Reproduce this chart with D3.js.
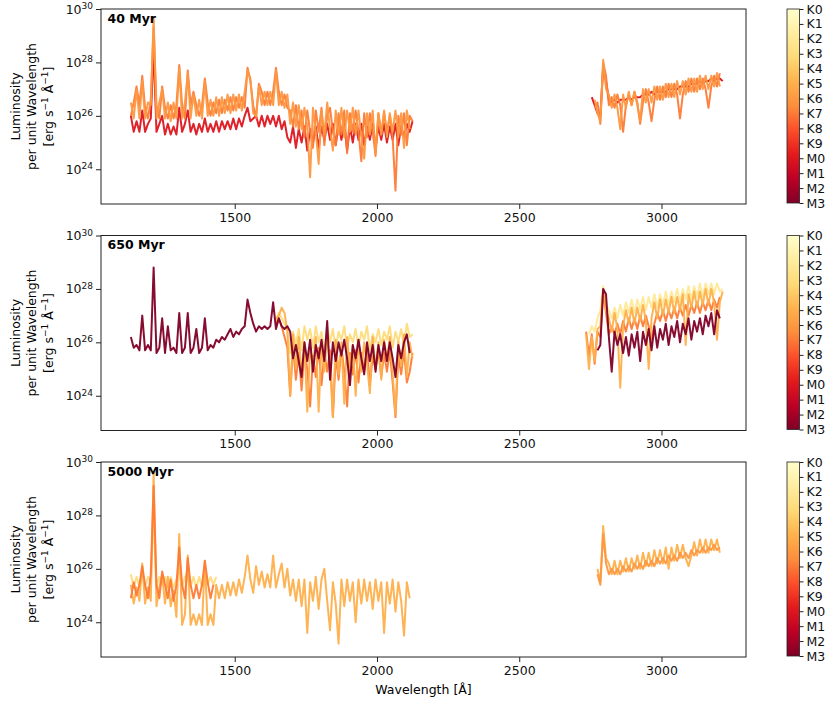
<!DOCTYPE html>
<html>
<head>
<meta charset="utf-8">
<script src="https://cdn.jsdelivr.net/npm/d3@7"></script>
<style>
  body { margin: 0; background: #fff; }
  text { font-family: "DejaVu Sans", sans-serif; }
</style>
</head>
<body>
<div id="chart"></div>
<script>
// spectral types shown on the colour bars (K0 light ... M3 dark)
var SPEC_TYPES = ["K0", "K1", "K2", "K3", "K4", "K5", "K6", "K7", "K8", "K9", "M0", "M1", "M2", "M3"];
var AGES = ["40 Myr", "650 Myr", "5000 Myr"];
var X_TICKS = [1500, 2000, 2500, 3000];
var Y_TICKS = [1e24, 1e26, 1e28, 1e30];

var _ = null; // no data at that wavelength

// wavelength grids [Å]
var FUV_WAVE = [1135, 1145, 1155, 1165, 1175, 1185, 1195, 1205, 1215, 1225,
    1235, 1245, 1255, 1265, 1275, 1285, 1295, 1305, 1315, 1325,
    1335, 1345, 1355, 1365, 1375, 1385, 1395, 1405, 1415, 1425,
    1435, 1445, 1455, 1465, 1475, 1485, 1495, 1505, 1515, 1525,
    1535, 1545, 1555, 1565, 1575, 1585, 1595, 1605, 1615, 1625,
    1635, 1645, 1655, 1665, 1675, 1685, 1695, 1705, 1715, 1725,
    1735, 1745, 1755, 1765, 1775, 1785, 1795, 1805, 1815, 1825,
    1835, 1845, 1855, 1865, 1875, 1885, 1895, 1905, 1915, 1925,
    1935, 1945, 1955, 1965, 1975, 1985, 1995, 2005, 2015, 2025,
    2035, 2045, 2055, 2065, 2075, 2085, 2095, 2105, 2115, 2125];
var NUV_WAVE = [2735, 2745, 2755, 2765, 2775, 2785, 2795, 2805, 2815, 2825,
    2835, 2845, 2855, 2865, 2875, 2885, 2895, 2905, 2915, 2925,
    2935, 2945, 2955, 2965, 2975, 2985, 2995, 3005, 3015, 3025,
    3035, 3045, 3055, 3065, 3075, 3085, 3095, 3105, 3115, 3125,
    3135, 3145, 3155, 3165, 3175, 3185, 3195, 3205, 3215];

// log10 luminosity per unit wavelength
// ---- 40 Myr
var p1M0Fuv = [26.0, 25.4, 25.8, 25.4, 26.2, 25.4, 25.7, 25.9, 28.5, 25.4,
    25.7, 26.0, 25.3, 25.7, 25.3, 25.6, 25.3, 26.3, 25.4, 25.7,
    26.2, 25.4, 25.7, 25.3, 25.7, 25.4, 25.9, 25.4, 25.7, 25.4,
    25.8, 25.4, 25.8, 25.5, 25.8, 25.5, 25.9, 25.5, 25.9, 25.6,
    26.0, 26.3, 25.8, 25.9, 26.0, 25.6, 26.0, 25.6, 26.0, 25.7,
    26.0, 25.6, 26.0, 25.5, 25.8, 25.2, 25.0, 25.6, 24.8, 25.5,
    25.0, 25.6, 24.7, 25.5, 25.0, 25.6, 24.8, 25.6, 25.1, 25.7,
    25.1, 25.7, 24.9, 25.7, 25.1, 25.7, 24.7, 25.6, 25.0, 25.7,
    25.1, 25.7, 24.9, 25.6, 25.1, 25.7, 24.8, 25.6, 25.1, 25.7,
    25.0, 25.6, 25.1, 25.7, 24.9, 25.6, 25.2, 25.7, 25.4, 25.8];
var p1M0Nuv = [_, _, 26.7, 26.4, 26.1, 26.0, 27.8, 27.3, 26.6, 26.5,
    26.6, 26.5, 26.6, 26.6, 26.6, 26.7, 26.6, 26.7, 26.7, 26.7,
    26.8, 26.8, 26.8, 26.9, 26.8, 26.9, 26.9, 26.9, 26.9, 27.0,
    27.0, 27.0, 27.0, 27.1, 27.1, 27.1, 27.1, 27.2, 27.2, 27.2,
    27.3, 27.2, 27.3, 27.3, 27.4, 27.3, 27.4, 27.4, 27.3];
var p1K7Fuv = [26.0, 26.5, 27.1, 26.4, 27.5, 26.3, 25.9, 26.6, 29.3, 26.4,
    25.9, 27.1, 26.3, 25.9, 26.4, 25.9, 26.4, 27.9, 26.4, 25.9,
    27.7, 26.4, 26.9, 26.4, 26.0, 26.4, 27.4, 26.5, 26.0, 26.5,
    26.1, 26.6, 26.1, 26.6, 26.2, 26.7, 26.2, 26.7, 26.3, 26.7,
    26.3, 27.8, 27.3, 26.4, 25.9, 27.2, 26.9, 26.4, 26.9, 26.4,
    26.9, 27.8, 26.9, 26.4, 26.8, 26.3, 26.2, 25.6, 26.4, 25.5,
    26.2, 25.2, 26.2, 25.4, 24.8, 26.2, 25.4, 26.3, 24.9, 26.0,
    26.3, 25.4, 24.9, 26.1, 25.3, 26.2, 24.6, 26.1, 25.4, 26.2,
    25.4, 24.3, 26.1, 25.2, 26.1, 25.4, 24.5, 26.1, 25.3, 26.1,
    25.4, 26.0, 25.2, 23.2, 26.0, 25.3, 26.1, 24.9, 26.0, 25.8];
var p1K7Nuv = [_, _, _, 26.3, 26.5, 25.7, 28.0, 27.5, 26.4, 26.7,
    26.3, 26.8, 26.4, 25.4, 26.4, 26.8, 26.4, 26.9, 26.5, 25.7,
    26.5, 27.0, 26.5, 25.8, 26.6, 27.1, 26.6, 27.1, 26.7, 27.2,
    26.7, 27.2, 26.8, 25.9, 26.8, 27.3, 26.9, 27.4, 26.9, 27.4,
    27.0, 27.4, 27.0, 26.3, 27.1, 27.5, 27.1, 27.6, _];
var p1K6Fuv = [26.5, 25.9, 27.0, 25.9, 27.3, 25.9, 26.5, 26.4, 29.7, 25.9,
    26.5, 27.0, 25.9, 26.5, 25.8, 26.5, 25.9, 27.8, 25.9, 26.5,
    27.6, 25.9, 26.8, 26.0, 26.6, 25.9, 27.3, 26.0, 26.6, 26.0,
    26.7, 26.0, 26.7, 26.1, 26.8, 26.1, 26.8, 26.2, 26.8, 26.2,
    26.9, 27.7, 27.4, 26.1, 26.0, 27.1, 26.4, 26.9, 26.4, 26.9,
    26.4, 27.7, 26.4, 26.9, 26.3, 26.8, 25.7, 26.5, 25.6, 26.4,
    25.5, 26.3, 25.6, 23.7, 26.3, 25.4, 24.2, 26.2, 25.3, 26.5,
    25.5, 24.7, 26.2, 25.3, 26.3, 25.2, 26.2, 25.4, 26.3, 25.3,
    26.2, 25.2, 24.4, 26.1, 25.3, 26.2, 24.6, 26.1, 25.3, 26.2,
    25.2, 26.1, 25.4, 26.2, 25.2, 26.1, 24.8, 26.2, 25.5, _];
var p1K6Nuv = [_, _, _, 26.6, 26.1, 25.8, 28.1, 27.0, 26.8, 26.3,
    26.8, 26.3, 25.5, 26.8, 26.3, 26.9, 26.4, 26.9, 26.4, 25.8,
    27.0, 26.5, 27.0, 26.5, 27.1, 26.6, 27.1, 26.6, 27.2, 26.7,
    27.2, 26.7, 27.3, 26.8, 27.3, 26.8, 27.4, 26.9, 27.4, 26.9,
    27.5, 27.0, 27.5, 27.0, 27.5, 27.1, 27.6, 27.1, _];

// ---- 650 Myr
var p2K3Fuv = [_, _, _, _, _, _, _, _, _, _,
    _, _, _, _, _, _, _, _, _, _,
    _, _, _, _, _, _, _, _, _, _,
    _, _, _, _, _, _, _, _, _, _,
    _, _, _, _, _, _, _, _, _, _,
    _, 26.8, 27.1, 26.9, 26.7, 26.5, 25.6, 26.4, 25.9, 26.5,
    25.7, 26.6, 26.1, 26.5, 25.8, 26.6, 26.0, 26.4, 25.6, 26.6,
    26.0, 26.5, 25.7, 26.4, 26.1, 26.6, 25.8, 26.3, 26.0, 26.5,
    25.8, 26.4, 26.1, 26.6, 25.7, 26.3, 26.0, 26.5, 25.9, 26.4,
    26.1, 26.6, 25.8, 26.4, 26.0, 26.5, 25.9, 26.7, 26.2, 26.3];
var p2K2Nuv = [_, 26.3, 26.6, 26.4, 26.9, 27.2, 28.1, 27.4, 27.2, 26.9,
    27.3, 26.9, 27.4, 27.0, 27.5, 27.1, 27.6, 27.1, 27.6, 27.2,
    27.7, 27.2, 27.7, 27.3, 27.8, 27.3, 27.8, 27.4, 27.9, 27.4,
    27.9, 27.5, 28.0, 27.5, 28.0, 27.6, 28.1, 27.6, 28.1, 27.7,
    28.2, 27.7, 28.2, 27.8, 28.2, 27.8, 28.2, 27.9, 28.0];
var p2K7Fuv = [_, _, _, _, _, _, _, _, _, _,
    _, _, _, _, _, _, _, _, _, _,
    _, _, _, _, _, _, _, _, _, _,
    _, _, _, _, _, _, _, _, _, _,
    _, _, _, _, _, _, _, _, _, _,
    _, 26.7, 26.9, 26.6, 26.2, 25.8, 24.0, 25.9, 24.6, 25.6,
    24.2, 25.7, 25.0, 23.6, 25.5, 24.7, 25.8, 24.4, 25.6, 24.9,
    25.7, 23.2, 25.5, 24.6, 25.8, 24.9, 23.6, 25.6, 24.8, 25.7,
    24.5, 25.6, 24.9, 25.8, 24.4, 25.5, 25.0, 25.7, 24.7, 25.6,
    24.9, 25.7, 24.5, 23.2, 25.5, 24.8, 25.7, 24.5, 24.9, 25.6];
var p2K7Nuv = [26.4, 25.5, 26.3, 25.2, 26.4, 26.2, 27.9, 27.1, 26.3, 26.6,
    26.3, 26.7, 26.3, 26.8, 26.4, 26.9, 26.5, 26.9, 26.5, 27.0,
    26.6, 27.0, 26.6, 26.1, 26.7, 27.1, 26.8, 27.2, 26.8, 27.2,
    26.9, 27.3, 26.9, 27.3, 27.0, 27.4, 27.0, 27.4, 27.1, 27.5,
    27.1, 27.5, 27.2, 27.6, 27.2, 27.6, 27.3, 27.7, _];
var p2K5Fuv = [_, _, _, _, _, _, _, _, _, _,
    _, _, _, _, _, _, _, _, _, _,
    _, _, _, _, _, _, _, _, _, _,
    _, _, _, _, _, _, _, _, _, _,
    _, _, _, _, _, _, _, _, _, _,
    _, 26.9, 27.0, 27.3, 27.1, 26.4, 24.0, 26.3, 25.0, 26.2,
    24.8, 26.0, 23.4, 25.8, 25.1, 26.2, 23.4, 25.9, 24.9, 26.3,
    25.2, 23.2, 26.1, 24.8, 26.0, 23.7, 26.2, 25.0, 25.9, 24.0,
    26.1, 24.9, 26.0, 25.2, 24.1, 26.2, 25.0, 26.0, 24.6, 26.1,
    25.3, 26.2, 24.8, 23.3, 26.0, 25.1, 26.3, 24.7, 26.0, 25.4];
var p2K5Nuv = [26.3, 25.0, 26.2, 25.3, 26.5, 26.6, 28.0, 27.2, 26.9, 26.4,
    27.1, 26.5, 24.3, 26.6, 27.2, 26.7, 27.3, 26.7, 27.3, 26.8,
    27.4, 26.8, 25.0, 26.9, 27.5, 26.9, 27.6, 27.0, 27.6, 27.1,
    27.7, 27.1, 27.7, 27.2, 27.8, 25.9, 27.8, 27.3, 27.9, 27.3,
    27.9, 27.4, 28.0, 27.4, 28.0, 27.5, 26.1, 27.5, 27.9];
var p2M3Fuv = [26.2, 25.8, 25.9, 25.7, 27.0, 25.7, 25.9, 25.7, 28.8, 25.6,
    25.8, 26.9, 25.6, 26.6, 25.7, 25.8, 25.6, 27.1, 25.6, 25.8,
    27.1, 25.6, 25.8, 26.5, 25.6, 25.8, 26.9, 25.7, 25.9, 25.8,
    26.1, 26.0, 26.2, 26.1, 26.3, 26.5, 26.2, 26.4, 26.3, 26.5,
    26.6, 27.6, 27.1, 26.7, 26.4, 26.6, 26.5, 26.6, 26.5, 26.6,
    27.5, 26.5, 26.9, 26.6, 26.5, 26.6, 26.4, 25.4, 25.9, 25.3,
    24.7, 26.0, 25.3, 26.1, 24.9, 25.9, 25.4, 26.1, 25.3, 26.8,
    24.6, 26.0, 25.3, 26.0, 25.5, 26.1, 25.4, 24.4, 25.9, 25.4,
    26.1, 25.4, 24.8, 26.0, 25.3, 25.9, 24.9, 25.9, 25.3, 26.0,
    25.3, 26.0, 25.4, 24.7, 25.9, 25.4, 26.0, 26.3, 25.6, _];
var p2M3Nuv = [_, _, _, _, 25.7, 25.9, 28.0, 27.8, 26.2, 24.9,
    26.4, 25.9, 26.3, 25.6, 26.2, 25.5, 26.3, 25.8, 26.4, 25.3,
    26.4, 25.9, 26.5, 25.7, 26.6, 25.8, 26.5, 26.1, 26.7, 25.9,
    26.6, 26.2, 26.8, 26.0, 26.7, 26.3, 26.9, 26.1, 26.8, 26.4,
    26.9, 26.3, 27.0, 26.6, 27.1, 26.3, 27.2, 26.9, _];

// ---- 5000 Myr
var p3K3Fuv = [25.8, 25.3, 25.7, 25.3, 25.9, 25.3, 25.7, 25.5, 28.0, 25.3,
    25.7, 25.4, 25.7, 25.3, 25.7, 25.3, 25.6, 26.0, 25.3, 25.7,
    25.9, 25.3, 25.7, 25.3, 25.7, 25.3, 25.8, 25.4, 25.7, 25.4,
    25.7, _, _, _, _, _, _, _, _, _,
    _, _, _, _, _, _, _, _, _, _,
    _, _, _, _, _, _, _, _, _, _,
    _, _, _, _, _, _, _, _, _, _,
    _, _, _, _, _, _, _, _, _, _,
    _, _, _, _, _, _, _, _, _, _,
    _, _, _, _, _, _, _, _, _, _];
var p3K5Fuv = [25.4, 24.7, 25.3, 24.8, 26.2, 24.7, 25.3, 24.8, 29.6, 24.6,
    25.3, 25.8, 24.7, 25.7, 24.6, 25.2, 24.2, 27.3, 23.9, 24.3,
    26.5, 23.9, 24.3, 23.9, 24.3, 23.9, 26.3, 23.9, 24.3, 23.9,
    25.4, 24.9, 25.4, 24.9, 25.5, 25.0, 25.5, 25.0, 25.6, 25.1,
    25.7, 26.5, 25.6, 25.1, 26.1, 25.4, 25.9, 25.3, 25.8, 25.3,
    26.5, 25.3, 25.8, 26.2, 25.3, 26.0, 25.0, 25.6, 24.8, 25.6,
    24.6, 25.6, 23.6, 25.5, 24.8, 25.7, 24.5, 25.6, 26.0, 24.8,
    23.7, 25.5, 24.7, 23.2, 25.6, 24.6, 25.6, 24.8, 25.5, 24.0,
    25.6, 24.7, 25.6, 24.8, 25.5, 24.5, 25.6, 24.8, 25.5, 23.6,
    25.5, 24.7, 25.6, 24.4, 25.5, 24.8, 23.5, 25.5, 24.9, _];
var p3K5Nuv = [_, _, _, _, 26.0, 25.5, 27.6, 26.4, 26.2, 25.8,
    26.3, 25.8, 26.3, 25.9, 26.4, 25.9, 26.4, 26.0, 26.5, 26.0,
    26.6, 26.1, 26.6, 26.1, 26.7, 26.2, 26.7, 26.2, 26.8, 26.0,
    26.8, 26.3, 26.9, 26.4, 26.9, 26.4, 26.1, 26.5, 27.0, 26.5,
    27.1, 26.6, 27.1, 26.6, 27.1, 26.7, 27.1, 26.6, _];
var p3K6Nuv = [_, _, _, _, 25.8, 25.4, 27.3, 26.2, 25.8, 26.0,
    25.8, 26.0, 25.8, 26.1, 25.9, 26.1, 25.9, 26.2, 26.0, 26.2,
    26.0, 26.3, 26.1, 26.3, 26.1, 26.4, 26.2, 26.4, 26.2, 26.5,
    26.3, 26.5, 26.3, 26.6, 26.4, 26.6, 26.4, 26.7, 26.5, 26.7,
    26.6, 26.8, 26.6, 26.8, 26.7, 26.9, 26.7, 26.8, _];
var p3K7Fuv = [24.9, 25.5, 25.0, 25.4, 26.1, 25.4, 24.9, 25.8, 29.1, 25.4,
    24.9, 25.9, 25.4, 24.9, 25.6, 24.8, 25.4, 26.8, 25.4, 24.9,
    26.4, 25.4, 24.9, 25.4, 24.9, 25.4, 26.3, 25.5, 24.9, 25.4,
    _, _, _, _, _, _, _, _, _, _,
    _, _, _, _, _, _, _, _, _, _,
    _, _, _, _, _, _, _, _, _, _,
    _, _, _, _, _, _, _, _, _, _,
    _, _, _, _, _, _, _, _, _, _,
    _, _, _, _, _, _, _, _, _, _,
    _, _, _, _, _, _, _, _, _, _];

// drawing order inside each panel = order of these lists
var panelSeries = [
    [{type: "M0", fuv: p1M0Fuv, nuv: p1M0Nuv},
     {type: "K7", fuv: p1K7Fuv, nuv: p1K7Nuv},
     {type: "K6", fuv: p1K6Fuv, nuv: p1K6Nuv}],
    [{type: "K3", fuv: p2K3Fuv, nuv: null},
     {type: "K2", fuv: null, nuv: p2K2Nuv},
     {type: "K7", fuv: p2K7Fuv, nuv: p2K7Nuv},
     {type: "K5", fuv: p2K5Fuv, nuv: p2K5Nuv},
     {type: "M3", fuv: p2M3Fuv, nuv: p2M3Nuv}],
    [{type: "K3", fuv: p3K3Fuv, nuv: null},
     {type: "K5", fuv: p3K5Fuv, nuv: p3K5Nuv},
     {type: "K6", fuv: null, nuv: p3K6Nuv},
     {type: "K7", fuv: p3K7Fuv, nuv: null}]
];

// layout
var W = 830, H = 703;
var plotLeft = 101, plotRight = 746;
var panelTops = [9, 235.5, 462];
var panelH = 195;
var cbarLeft = 787, cbarW = 12.5;

// matplotlib YlOrRd is a linear ramp through these 9 colours
var ylOrRd = d3.schemeYlOrRd[9];
var ramp = d3.scaleLinear()
    .domain(d3.range(9).map(function (i) { return i / 8; }))
    .range(ylOrRd)
    .interpolate(d3.interpolateRgb);
function typeColor(t) {
    return ramp(SPEC_TYPES.indexOf(t) / (SPEC_TYPES.length - 1));
}

var svg = d3.select("#chart").append("svg")
    .attr("width", W)
    .attr("height", H)
    .style("background", "#fff");

var x = d3.scaleLinear().domain([1030, 3297]).range([plotLeft, plotRight]);

var defs = svg.append("defs");
var grad = defs.append("linearGradient")
    .attr("id", "cbarGrad")
    .attr("x1", 0).attr("y1", 0).attr("x2", 0).attr("y2", 1);
ylOrRd.forEach(function (c, i) {
    grad.append("stop").attr("offset", (i / 8 * 100) + "%").attr("stop-color", c);
});

function superscript(textSel, base, exp) {
    textSel.append("tspan").text(base);
    textSel.append("tspan").attr("dy", "-0.5em").attr("font-size", "0.72em").text(exp);
}

AGES.forEach(function (age, p) {
    var top = panelTops[p];
    var y = d3.scaleLog().domain([5e22, 1e30]).range([top + panelH, top]);

    var g = svg.append("g");

    defs.append("clipPath").attr("id", "clip" + p)
        .append("rect")
        .attr("x", plotLeft).attr("y", top)
        .attr("width", plotRight - plotLeft).attr("height", panelH);

    var line = d3.line()
        .defined(function (d) { return d[1] !== null; })
        .x(function (d) { return x(d[0]); })
        .y(function (d) { return y(Math.pow(10, d[1])); });

    var plot = g.append("g").attr("clip-path", "url(#clip" + p + ")");
    panelSeries[p].forEach(function (s) {
        [[FUV_WAVE, s.fuv], [NUV_WAVE, s.nuv]].forEach(function (seg) {
            if (!seg[1]) return;
            var pts = seg[0].map(function (w, i) { return [w, seg[1][i]]; });
            plot.append("path")
                .attr("d", line(pts))
                .attr("fill", "none")
                .attr("stroke", typeColor(s.type))
                .attr("stroke-width", 2)
                .attr("stroke-linejoin", "round")
                .attr("opacity", 0.95);
        });
    });

    // frame
    g.append("rect")
        .attr("x", plotLeft).attr("y", top)
        .attr("width", plotRight - plotLeft).attr("height", panelH)
        .attr("fill", "none").attr("stroke", "#222").attr("stroke-width", 1);

    // axes
    var yAxis = g.append("g")
        .attr("transform", "translate(" + plotLeft + ",0)")
        .call(d3.axisLeft(y).tickValues(Y_TICKS).tickSize(5).tickPadding(3));
    yAxis.select(".domain").remove();
    yAxis.selectAll("text")
        .attr("font-size", 12.5).attr("fill", "#111")
        .each(function (d) {
            var t = d3.select(this).text("");
            superscript(t, "10", Math.round(Math.log10(d)));
        });

    var xAxis = g.append("g")
        .attr("transform", "translate(0," + (top + panelH) + ")")
        .call(d3.axisBottom(x).tickValues(X_TICKS).tickSize(5).tickPadding(4).tickFormat(d3.format("d")));
    xAxis.select(".domain").remove();
    xAxis.selectAll("text").attr("font-size", 12.5).attr("fill", "#111");
    g.selectAll(".tick line").attr("stroke", "#222");

    // age label
    g.append("text")
        .attr("x", 107.5).attr("y", top + 13.5)
        .attr("font-size", 12.5).attr("font-weight", "bold")
        .text(age);

    // y label, three lines
    var cy = top + panelH / 2;
    var labelLines = ["Luminosity", "per unit Wavelength", null];
    var labelX = [15, 31.5, 48];
    labelLines.forEach(function (txt, k) {
        var t = g.append("text")
            .attr("transform", "translate(" + labelX[k] + "," + cy + ") rotate(-90)")
            .attr("text-anchor", "middle")
            .attr("dy", "0.38em")
            .attr("font-size", 12.5);
        if (txt) {
            t.text(txt);
        } else {
            t.append("tspan").text("[erg s");
            t.append("tspan").attr("dy", -5).attr("font-size", 9).text("\u22121");
            t.append("tspan").attr("dy", 5).text(" \u00c5");
            t.append("tspan").attr("dy", -5).attr("font-size", 9).text("\u22121");
            t.append("tspan").attr("dy", 5).text("]");
        }
    });

    // colour bar
    var cb = d3.scaleLinear().domain([0, SPEC_TYPES.length - 1]).range([top, top + panelH - 1]);
    g.append("rect")
        .attr("x", cbarLeft).attr("y", top)
        .attr("width", cbarW).attr("height", panelH - 1)
        .attr("fill", "url(#cbarGrad)")
        .attr("stroke", "#222").attr("stroke-width", 0.8);
    var cAxis = g.append("g")
        .attr("transform", "translate(" + (cbarLeft + cbarW) + ",0)")
        .call(d3.axisRight(cb).tickValues(d3.range(SPEC_TYPES.length)).tickSize(4).tickPadding(3)
            .tickFormat(function (i) { return SPEC_TYPES[i]; }));
    cAxis.select(".domain").remove();
    cAxis.selectAll("text").attr("font-size", 12.5).attr("fill", "#111");
    cAxis.selectAll(".tick line").attr("stroke", "#222");
});

svg.append("text")
    .attr("x", (plotLeft + plotRight) / 2).attr("y", 694)
    .attr("text-anchor", "middle")
    .attr("font-size", 12.5)
    .text("Wavelength [\u00c5]");
</script>
</body>
</html>
